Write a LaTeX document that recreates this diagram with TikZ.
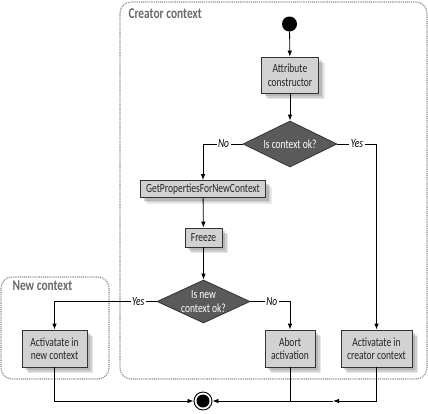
\documentclass[tikz,border=0pt]{standalone}
\usepackage{fontspec}
\setmainfont{Carlito}[FakeStretch=0.76]
\usetikzlibrary{arrows.meta,shapes.geometric,shadows}
\definecolor{boxfill}{HTML}{D2D2D2}
\definecolor{boxdraw}{HTML}{333333}
\definecolor{diafill}{HTML}{5A5A5A}
\definecolor{ctxline}{HTML}{8A8A8A}
\definecolor{ctxtext}{HTML}{6A6A6A}
\tikzset{
  stepbox/.style={draw=boxdraw, fill=boxfill, line width=0.8pt, inner sep=0pt, align=center,
    font=\fontsize{12.5}{13.5}\selectfont, text=black!85,
    drop shadow={shadow xshift=6pt, shadow yshift=-6pt, fill=black!50, opacity=0.18},
    drop shadow={shadow xshift=4.5pt, shadow yshift=-4.5pt, fill=black!50, opacity=0.25},
    drop shadow={shadow xshift=3pt, shadow yshift=-3pt, fill=black!50, opacity=0.3}},
  decision/.style={diamond, draw=black!80, fill=diafill, line width=0.8pt, inner sep=0pt,
    minimum width=94pt, minimum height=46pt},
  dtext/.style={text=white, align=center, font=\fontsize{12.5}{13.5}\selectfont},
  ctx/.style={draw=ctxline, line width=1.1pt, dash pattern=on 1pt off 0.9pt, rounded corners=11pt},
  ctxlabel/.style={text=ctxtext, font=\fontsize{15}{16}\bfseries\selectfont, anchor=west},
  arr/.style={line width=0.8pt, -{Latex[length=6pt,width=4.5pt]}},
  ln/.style={line width=0.8pt},
  guard/.style={fill=white, inner sep=1.5pt, font=\fontsize{12.5}{13.5}\itshape\selectfont}
}
\begin{document}
\begin{tikzpicture}[x=1pt,y=-1pt]
\useasboundingbox (0,0) rectangle (428,413);
% contexts
\draw[ctx] (120,2) rectangle (427,379);
\draw[ctx] (1,277) rectangle (109,379);
\node[ctxlabel] (lc) at (125,14) {Creator context};
\node[ctxlabel] (ln) at (9,286) {New context};
% nodes
\node[circle, fill=black, minimum size=15pt, inner sep=0pt] (start) at (289.5,24) {};
\node[stepbox, minimum width=57pt, minimum height=36pt] (attr) at (290,75) {Attribute\\constructor};
\node[decision] (d1) at (290,144) {};
\node[dtext] (d1t) at (d1) {Is context ok?};
\node[stepbox, minimum width=125pt, minimum height=17pt] (gp) at (203,189) {GetPropertiesForNewContext};
\node[stepbox, minimum width=37pt, minimum height=19pt] (fr) at (203.5,237.5) {Freeze};
\node[decision, minimum width=93pt, minimum height=43pt] (d2) at (203.5,301.5) {};
\node[dtext] (d2t) at (d2) {Is new\\context ok?};
\node[stepbox, minimum width=65pt, minimum height=37pt] (a1) at (54.5,348.5) {Activatate in\\new context};
\node[stepbox, minimum width=50pt, minimum height=37pt] (ab) at (290,348.5) {Abort\\activation};
\node[stepbox, minimum width=71pt, minimum height=37pt] (a2) at (376.5,348.5) {Activatate in\\creator context};
\node[circle, draw=black, line width=0.9pt, minimum size=18pt, inner sep=0pt] (end) at (203,401) {};
\node[circle, fill=black, minimum size=13pt, inner sep=0pt] (endin) at (end) {};
\coordinate (m) at (333,401);
% connectors
\draw[arr] (start) -- (attr);
\draw[arr] (attr) -- (d1);
\draw[arr] (d1.west) -| node[guard, pos=0.24] {No} (gp.north);
\draw[arr] (d1.east) -| node[guard, pos=0.25] {Yes} (a2.north);
\draw[arr] (gp) -- (fr);
\draw[arr] (fr) -- (d2);
\draw[arr] (d2.west) -| node[guard, pos=0.09] {Yes} (a1.north);
\draw[arr] (d2.east) -| node[guard, pos=0.27] {No} (ab.north);
\draw[arr] (a1.south) |- (end.west);
\draw[arr] (ab.south) |- (end.east);
\draw[arr] (a2.south) |- (m);
\draw[ln] (m) -- (ab.south |- end.east);
\end{tikzpicture}
\end{document}
